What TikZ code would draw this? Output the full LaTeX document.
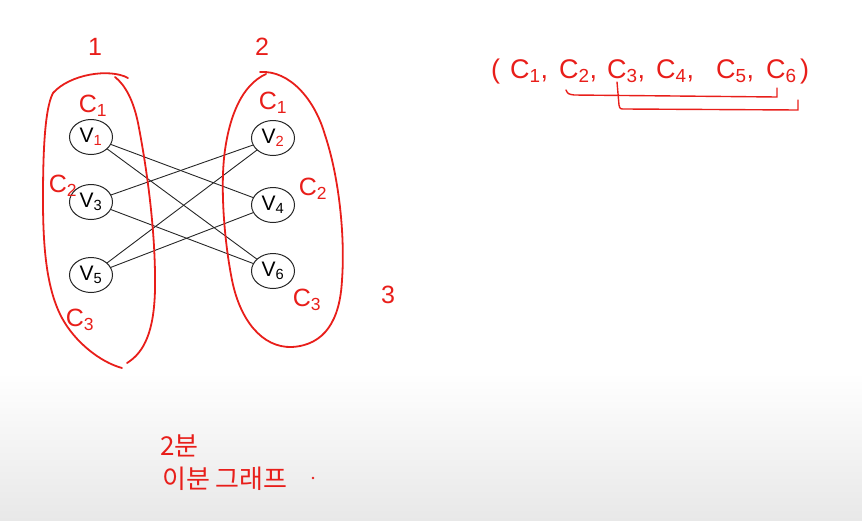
\documentclass[tikz,border=0pt]{standalone}
\usepackage{fontspec}
\setmainfont{Liberation Sans}
\newfontfamily\krfont{Noto Sans CJK KR}
\usetikzlibrary{shapes.geometric}
\definecolor{pen}{RGB}{232,30,26}
\begin{document}
\begin{tikzpicture}[x=1pt,y=-1pt,
  vert/.style={draw=black!85,line width=1pt,ellipse,minimum width=43pt,minimum height=35pt,inner sep=0pt,font=\fontsize{21}{22}\selectfont},
  edge/.style={draw=black!85,line width=0.9pt},
  redline/.style={draw=pen,line width=1.8pt,line cap=round,line join=round},
  redtxt/.style={text=pen,font=\fontsize{25}{26}\selectfont,inner sep=0pt},
  seqtxt/.style={text=pen,font=\fontsize{27}{28}\selectfont,inner sep=0pt,anchor=base west},
  kr/.style={text=pen,font=\krfont\fontsize{26}{28}\selectfont,anchor=west,inner sep=0pt}]
\useasboundingbox (0,0) rectangle (862,520);
\shade[top color=white,bottom color=black!9] (0,372) rectangle (862,520);
% vertices
\node[vert] (v1) at (91,137) {V\textsubscript{\color{pen}1}};
\node[vert] (v3) at (91,202) {V\textsubscript{3}};
\node[vert] (v5) at (91,275) {V\textsubscript{5}};
\node[vert] (v2) at (273,138) {V\textsubscript{\color{pen}2}};
\node[vert] (v4) at (273,205) {V\textsubscript{4}};
\node[vert] (v6) at (273,271) {V\textsubscript{6}};
% edges
\draw[edge] (v1) -- (v4);
\draw[edge] (v1) -- (v6);
\draw[edge] (v3) -- (v2);
\draw[edge] (v3) -- (v6);
\draw[edge] (v5) -- (v2);
\draw[edge] (v5) -- (v4);
% left blob
\draw[redline] (53,93) .. controls (70,74) and (110,68) .. (128,78);
\draw[redline] (115,77) .. controls (125,85) and (134,100) .. (139,128)
  .. controls (146,165) and (156,230) .. (155,290)
  .. controls (154,330) and (145,352) .. (127,363);
\draw[redline] (53,93) .. controls (44,110) and (43,160) .. (43,200)
  .. controls (43,250) and (47,290) .. (62,318)
  .. controls (75,342) and (100,362) .. (122,368);
% right blob
\draw[redline] (260,72) .. controls (290,70) and (315,100) .. (325,135)
  .. controls (340,180) and (345,240) .. (342,280)
  .. controls (340,320) and (325,345) .. (292,347)
  .. controls (262,348) and (240,320) .. (232,280)
  .. controls (224,240) and (220,185) .. (225,150)
  .. controls (230,115) and (242,85) .. (266,74);
% red labels
\node[redtxt] (n1) at (95,47) {1};
\node[redtxt] (n2) at (262,47) {2};
\node[redtxt] (n3) at (388,295) {3};
\node[redtxt] (lc1) at (93,106) {C\textsubscript{1}};
\node[redtxt] (lc2) at (63,186) {C\textsubscript{2}};
\node[redtxt] (lc3) at (80,320) {C\textsubscript{3}};
\node[redtxt] (rc1) at (273,103) {C\textsubscript{1}};
\node[redtxt] (rc2) at (313,189) {C\textsubscript{2}};
\node[redtxt] (rc3) at (307,300) {C\textsubscript{3}};
% sequence
\node[seqtxt] (lp) at (491,78) {(};
\node[seqtxt] (s1) at (510,78) {C\textsubscript{1},};
\node[seqtxt] (s2) at (559,78) {C\textsubscript{2},};
\node[seqtxt] (s3) at (607,78) {C\textsubscript{3},};
\node[seqtxt] (s4) at (656,78) {C\textsubscript{4},};
\node[seqtxt] (s5) at (716,78) {C\textsubscript{5},};
\node[seqtxt] (s6) at (766,78) {C\textsubscript{6}};
\node[seqtxt] (rp) at (800,78) {)};
\coordinate (a1) at (566,90);
\coordinate (a2) at (777,88);
\coordinate (b1) at (617,82);
\coordinate (b2) at (798,100);
\draw[redline,line width=1.4pt] (a1) .. controls (568,94) .. (574,95) -- (777,97) -- (a2);
\draw[redline,line width=1.4pt] (b1) -- (619,105) .. controls (620,109) .. (625,109) -- (798,110) -- (b2);
% korean
\node[kr] (k1) at (160,446) {2분};
\node[kr] (k2) at (162,479) {이분 그래프};
\fill[pen] (313,478) circle (1.3pt);
\end{tikzpicture}
\end{document}
